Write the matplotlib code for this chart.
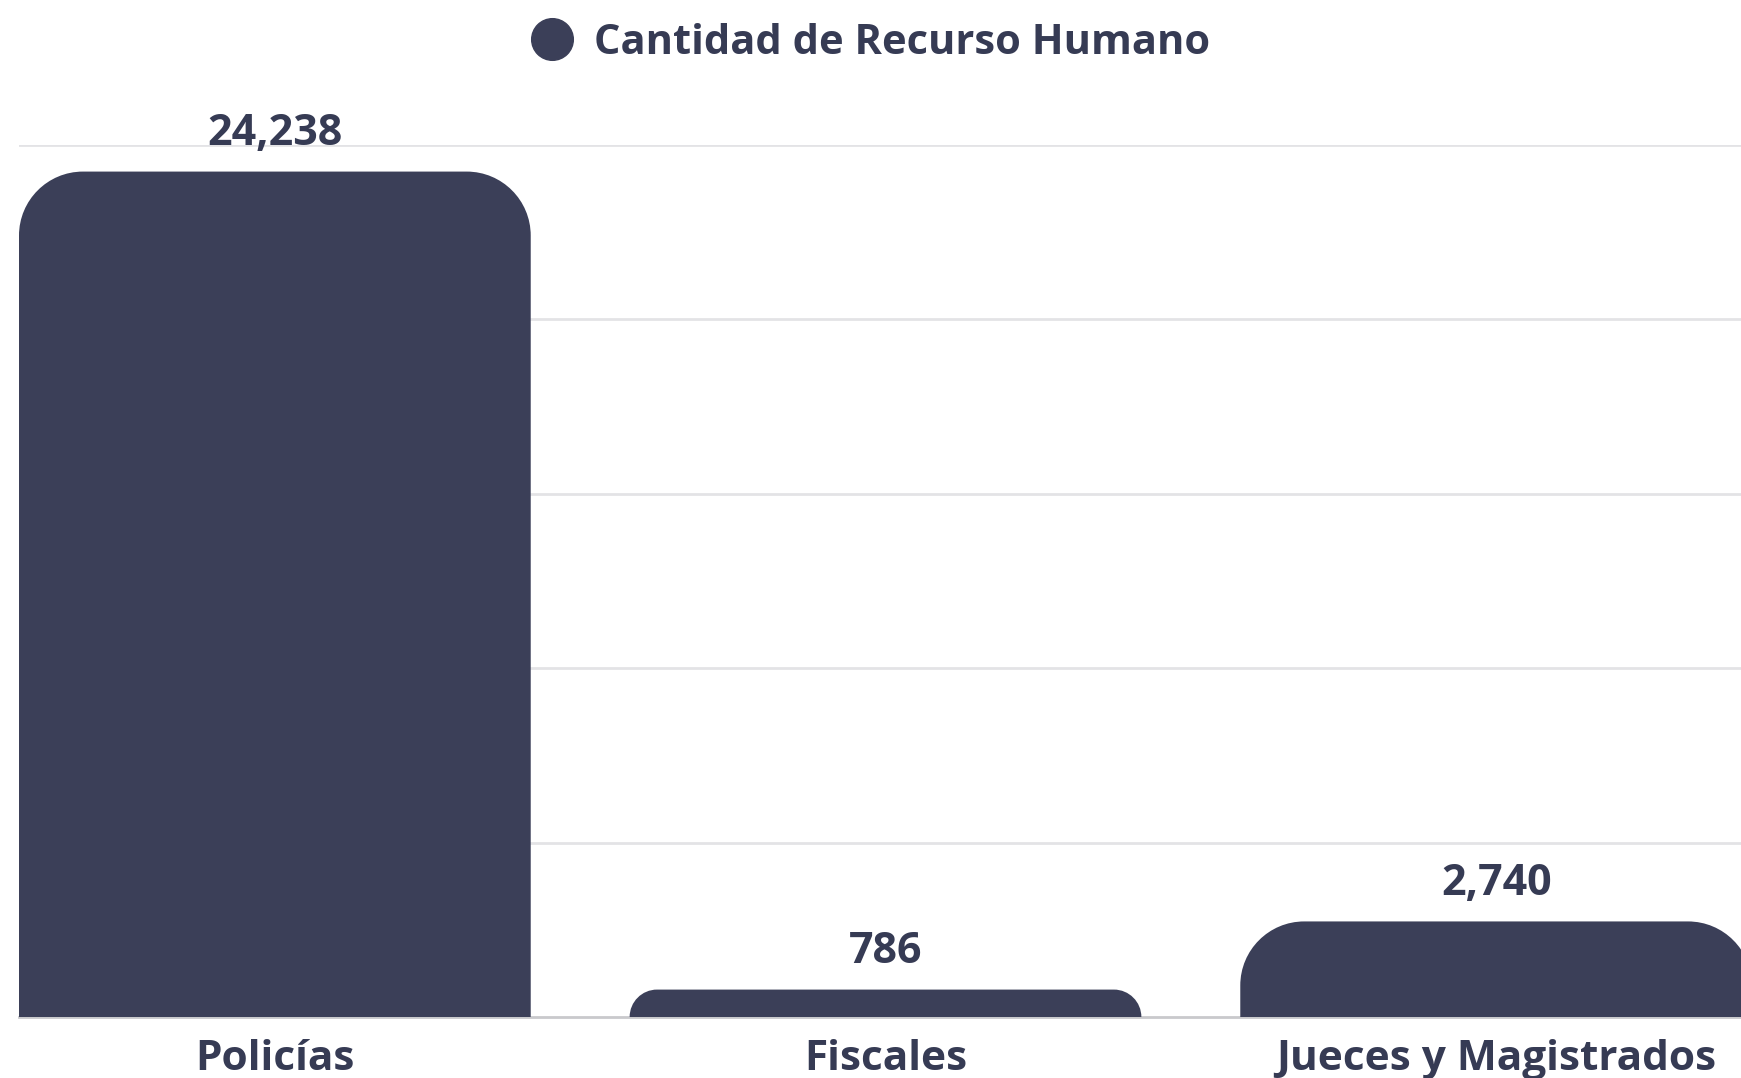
import matplotlib
matplotlib.use("Agg")
import matplotlib.pyplot as plt
from matplotlib.path import Path
from matplotlib.patches import PathPatch
from matplotlib.lines import Line2D

categories = ["Policías", "Fiscales", "Jueces y Magistrados"]
values = [24238, 786, 2740]
value_labels = ["24,238", "786", "2,740"]
grid_ticks = [5000, 10000, 15000, 20000, 25000]
series_name = "Cantidad de Recurso Humano"

BAR = "#3b3f58"
TEXT = "#363b54"
FONT = "Open Sans"

fig = plt.figure(figsize=(17.41, 10.78), dpi=100)
ax = fig.add_axes([19 / 1741, 61 / 1078, 1733 / 1741, 872 / 1078])

width = 0.838
x = range(len(categories))
ax.set_xlim(-width / 2, len(categories) - 1 + width / 2)
ax.set_ylim(0, 25000)

bars = ax.bar(x, values, width=width, color=BAR)

# px per data unit, to keep the corner round
p0 = ax.transData.transform((0, 0))
p1 = ax.transData.transform((1, 1))
sx, sy = p1[0] - p0[0], p1[1] - p0[1]
k = 0.5523

for b in bars:
    b.set_visible(False)
    x0, y0 = b.get_x(), b.get_y()
    x1, y1 = x0 + b.get_width(), y0 + b.get_height()
    r = min(64, b.get_height() * sy)
    rx, ry = r / sx, r / sy
    verts = [
        (x0, y0), (x0, y1 - ry),
        (x0, y1 - ry + k * ry), (x0 + rx - k * rx, y1), (x0 + rx, y1),
        (x1 - rx, y1),
        (x1 - rx + k * rx, y1), (x1, y1 - ry + k * ry), (x1, y1 - ry),
        (x1, y0), (x0, y0),
    ]
    codes = [Path.MOVETO, Path.LINETO,
             Path.CURVE4, Path.CURVE4, Path.CURVE4,
             Path.LINETO,
             Path.CURVE4, Path.CURVE4, Path.CURVE4,
             Path.LINETO, Path.CLOSEPOLY]
    ax.add_patch(PathPatch(Path(verts, codes), facecolor=BAR, edgecolor="none", zorder=3))

for i, (v, lab) in enumerate(zip(values, value_labels)):
    ax.annotate(lab, (i, v), xytext=(0, 12), textcoords="offset points",
                ha="center", va="bottom", fontsize=31, fontweight="bold",
                color=TEXT, family=FONT, annotation_clip=False)

ax.set_yticks(grid_ticks)
ax.yaxis.grid(True, color="#e3e3e6", linewidth=2)
ax.set_axisbelow(True)
ax.tick_params(axis="y", left=False, labelleft=False)
ax.set_xticks(list(x))
ax.set_xticklabels(categories, fontsize=30.5, fontweight="bold", color=TEXT, family=FONT)
ax.tick_params(axis="x", length=0, pad=16)
for s in ["top", "left", "right"]:
    ax.spines[s].set_visible(False)
ax.spines["bottom"].set_color("#c9c9cc")
ax.spines["bottom"].set_linewidth(2)

handle = Line2D([], [], marker="o", linestyle="none", markersize=30,
                markerfacecolor=BAR, markeredgecolor=BAR)
fig.legend([handle], [series_name], loc="center", bbox_to_anchor=(0.5, 1 - 43 / 1078),
           frameon=False, handletextpad=0.5, handlelength=1.0,
           prop={"family": FONT, "weight": "bold", "size": 30}, labelcolor=TEXT)

fig.savefig("out.png", dpi=100)
